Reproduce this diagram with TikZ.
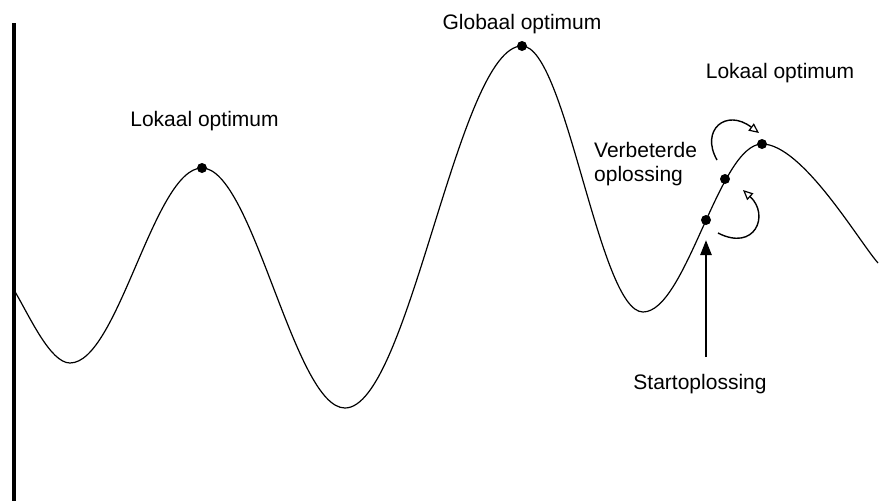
\documentclass[tikz,border=0pt]{standalone}
\usepackage{fontspec}
\setmainfont{Liberation Sans}
\usetikzlibrary{arrows.meta}
\begin{document}
\begin{tikzpicture}[x=1pt,y=-1pt,
  lbl/.style={font=\fontsize{21}{24}\selectfont, inner sep=0pt, text=black},
  dot/.style={circle,fill=black,inner sep=0pt,minimum size=10pt},
  landscape/.style={line width=1.2pt},
  axisline/.style={line width=3.5pt},
  openarr/.style={line width=1.4pt,-{Triangle[open,length=10pt,width=9pt,line width=1.2pt]}},
  startarr/.style={line width=2.6pt,-{Triangle[length=15pt,width=11pt]}}]
\useasboundingbox (0,0) rectangle (892,501);
% axis
\coordinate (axtop) at (14,23);
\coordinate (axbot) at (14,501);
\draw[axisline] (axtop) -- (axbot);
% landscape curve
\draw[landscape] (14,290)
  .. controls (29,315) and (50,363) .. (70,363)
  .. controls (118,363) and (154,168) .. (202,168)
  .. controls (253,168) and (294,408) .. (345,408)
  .. controls (409,408) and (458,46) .. (522,46)
  .. controls (566,46) and (599,312) .. (643,312)
  .. controls (686,312) and (719,144) .. (762,144)
  .. controls (802,144) and (858,240) .. (878,263);
% dots
\node[dot] (lok1) at (202,168) {};
\node[dot] (glob) at (522,46) {};
\node[dot] (lok2) at (762,144) {};
\node[dot] (verb) at (725,179) {};
\node[dot] (start) at (706,220) {};
% labels
\node[lbl,anchor=base] (tlok1) at (204.5,126) {Lokaal optimum};
\node[lbl,anchor=base] (tglob) at (522,29) {Globaal optimum};
\node[lbl,anchor=base] (tlok2) at (780,78) {Lokaal optimum};
\node[lbl,anchor=base west] (tverb1) at (594,157) {Verbeterde};
\node[lbl,anchor=base west] (tverb2) at (594,181) {oplossing};
\node[lbl,anchor=base] (tstart) at (700,389) {Startoplossing};
% start arrow
\coordinate (sa0) at (706,357);
\coordinate (sa1) at (706,240);
\draw[startarr] (sa0) -- (sa1);
% improvement arrows
\coordinate (u0) at (717,160);
\coordinate (u1) at (759,133);
\draw[openarr] (u0) .. controls (700,130) and (726,108) .. (u1);
\coordinate (l0) at (718,233);
\coordinate (l1) at (743,190);
\draw[openarr] (l0) .. controls (755,252) and (770,215) .. (l1);
\end{tikzpicture}
\end{document}
